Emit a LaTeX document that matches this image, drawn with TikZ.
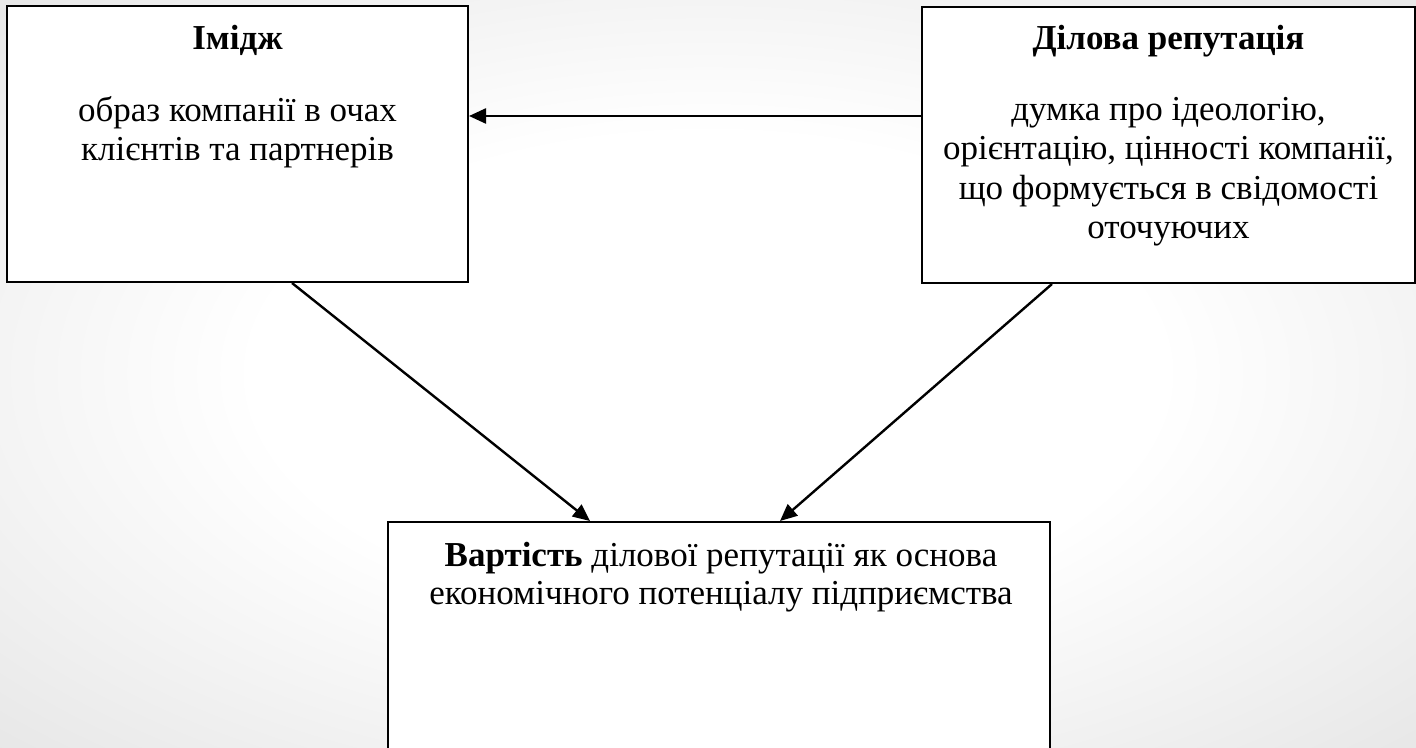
\documentclass[tikz,border=0pt]{standalone}
\usepackage{fontspec}
\setmainfont{Liberation Serif}
\usetikzlibrary{arrows.meta}
\pgfdeclareradialshading{paper}{\pgfpoint{0bp}{0bp}}{color(0bp)=(white); color(16bp)=(white); color(60bp)=(black!21); color(72bp)=(black!26)}

\begin{document}
\begin{tikzpicture}[
    x=1pt, y=1pt,
    panel/.style={rectangle, draw=black, line width=2pt, fill=white, inner sep=0pt},
    head/.style={anchor=base, inner sep=0pt, font=\fontsize{35}{39.5}\selectfont\bfseries},
    body/.style={anchor=north, inner sep=0pt, align=center, font=\fontsize{35}{39.5}\selectfont},
    link/.style={-{Triangle[length=17pt,width=15pt]}, line width=2.4pt},
]

\useasboundingbox (0,0) rectangle (1416,747);
\shade[shading=paper] (0,0) rectangle (1416,747);

\node[panel, minimum width=461pt, minimum height=276pt] (img) at (237.5,603) {};
\node[panel, minimum width=493pt, minimum height=276pt] (rep) at (1168.5,602) {};
\node[panel, minimum width=662pt, minimum height=230pt] (val) at (719,110) {};

\node[head] (img-head) at (237.5,697) {Імідж};
\node[body] (img-text) at (237.5,651) {образ компанії в очах\\клієнтів та партнерів};

\node[head] (rep-head) at (1168.5,697) {Ділова репутація};
\node[body] (rep-text) at (1168.5,650) {думка про ідеологію,\\орієнтацію, цінності компанії,\\що формується в свідомості\\оточуючих};

\node[body, font=\fontsize{35}{38.5}\selectfont] (val-text) at (721,205) {\textbf{Вартість} ділової репутації як основа\\економічного потенціалу підприємства};

\draw[link] ([yshift=29pt]rep.west) -- ([yshift=28pt]img.east);
\draw[link] ([xshift=54.5pt]img.south) -- ([xshift=-129pt]val.north);
\draw[link] ([xshift=-116.5pt]rep.south) -- ([xshift=61pt]val.north);

\end{tikzpicture}
\end{document}
